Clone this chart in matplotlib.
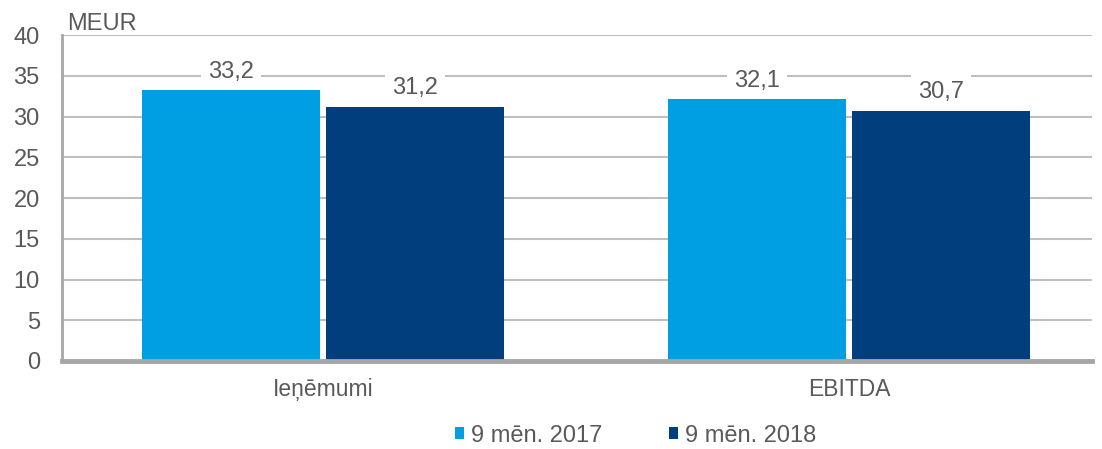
import numpy as np
import matplotlib.pyplot as plt

categories = ['Ieņēmumi', 'EBITDA']
series_names = ['9 mēn. 2017', '9 mēn. 2018']
values_2017 = [33.2, 32.1]
values_2018 = [31.2, 30.7]
value_labels_2017 = ['33,2', '32,1']
value_labels_2018 = ['31,2', '30,7']

light_blue = '#009FE3'
dark_blue = '#003E7E'
text_color = '#595959'
grid_color = '#BFBFBF'

plt.rcParams['font.family'] = ['Liberation Sans', 'DejaVu Sans']

fig = plt.figure(figsize=(11.02, 4.49), dpi=100)
ax = fig.add_axes([0.0563, 0.196, 0.9347, 0.726])

x = np.arange(len(categories))
width = 0.338
offset = 0.175

bars1 = ax.bar(x - offset, values_2017, width, color=light_blue, label=series_names[0], zorder=3)
bars2 = ax.bar(x + offset, values_2018, width, color=dark_blue, label=series_names[1], zorder=3)

for bars, labels in ((bars1, value_labels_2017), (bars2, value_labels_2018)):
    for b, lab in zip(bars, labels):
        ax.text(b.get_x() + b.get_width() / 2, b.get_height() + 1.55, lab,
                ha='center', va='baseline', fontsize=17, color=text_color, zorder=4,
                bbox=dict(boxstyle='square,pad=0.3', fc='white', ec='none'))

ax.set_xlim(-0.496, 1.462)
ax.set_ylim(0, 40)
ax.set_yticks(np.arange(0, 41, 5))
ax.set_xticks(x)
ax.set_xticklabels(categories, fontsize=16.5)
ax.yaxis.grid(True, color=grid_color, linewidth=1.5, zorder=0)
ax.set_axisbelow(True)

for s in ('top', 'right'):
    ax.spines[s].set_visible(False)
ax.spines['left'].set_color('#A6A6A6')
ax.spines['left'].set_linewidth(2)
ax.spines['bottom'].set_color('#A6A6A6')
ax.spines['bottom'].set_linewidth(3.5)
ax.spines['bottom'].set_zorder(5)

ax.tick_params(axis='y', length=0, labelsize=17, colors=text_color, pad=16)
ax.tick_params(axis='x', length=0, colors=text_color, pad=12)

fig.text(67 / 1102, 1 - 30 / 449, 'MEUR', fontsize=17, color=text_color, ha='left', va='baseline')

fig.legend(loc='center', bbox_to_anchor=(0.5767, 0.030), ncol=2, frameon=False,
           fontsize=17, handlelength=0.38, handleheight=0.38, handletextpad=0.3,
           columnspacing=2.84, borderpad=0, labelcolor=text_color)

fig.savefig('out.png', dpi=100)
